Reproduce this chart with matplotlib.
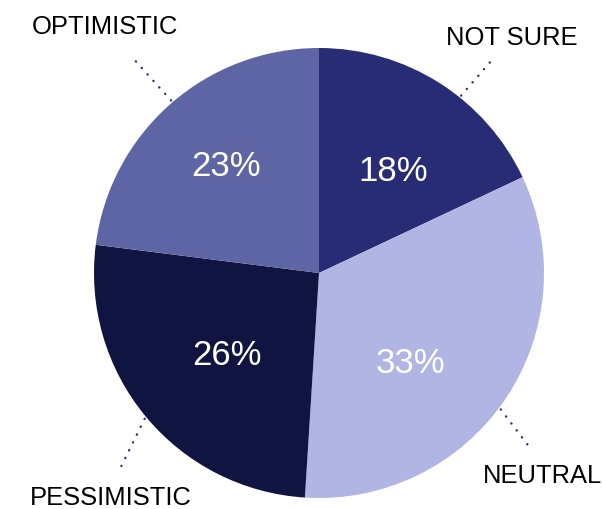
import numpy as np
import matplotlib.pyplot as plt

# survey answers, clockwise from 12 o'clock
labels = ["NOT SURE", "NEUTRAL", "PESSIMISTIC", "OPTIMISTIC"]
shares = [18, 33, 26, 23]
colors = ["#272c74", "#b0b5e3", "#101441", "#5e65a4"]

# percentage text placement: angle shift from wedge middle (deg), radius
pct_shift = [-2.8, -9.6, 1.3, -0.8]
pct_radius = [0.569, 0.566, 0.543, 0.637]

# leader lines: start/end angle shift (deg), outer radius
lead_a0 = [-6.3, -2.7, 0.3, -0.8]
lead_a1 = [-6.7, -5.4, 5.2, -0.5]
lead_r1 = [1.24, 1.214, 1.257, 1.272]
# label offset from leader end, px (x to centre, y to baseline)
label_offset = [(16.3, 11), (13, -36), (-8, -32.5), (-26.7, 22.4)]

plt.rcParams['font.family'] = ['Liberation Sans', 'DejaVu Sans']

fig = plt.figure(figsize=(6.02, 5.09), dpi=100)
ax = fig.add_axes([0, 0, 1, 1])

wedges, _ = ax.pie(shares, colors=colors, startangle=90, counterclock=False,
                   radius=1.0, wedgeprops=dict(linewidth=0))

def polar(r, a):
    return r * np.cos(a), r * np.sin(a)

for i, w in enumerate(wedges):
    mid = (w.theta1 + w.theta2) / 2

    a = np.deg2rad(mid + pct_shift[i])
    ax.annotate(f"{shares[i]}%", polar(pct_radius[i], a), xytext=(0, -12.3),
                textcoords='offset pixels', ha='center', va='baseline',
                color='white', fontsize=25)

    p0 = polar(1.01, np.deg2rad(mid + lead_a0[i]))
    p1 = polar(lead_r1[i], np.deg2rad(mid + lead_a1[i]))
    ax.plot([p0[0], p1[0]], [p0[1], p1[1]], color="#2a2f7a", lw=1.7,
            linestyle=(0, (0.1, 3.6)), dash_capstyle='round')
    ax.annotate(labels[i], p1, xytext=label_offset[i],
                textcoords='offset pixels', ha='center', va='baseline',
                fontsize=18.4, color='black')

ax.set_aspect('equal')
ax.set_xlim(-319 / 225, 283 / 225)
ax.set_ylim(-236 / 225, 273 / 225)
ax.axis('off')

fig.savefig("out.png", dpi=100)
